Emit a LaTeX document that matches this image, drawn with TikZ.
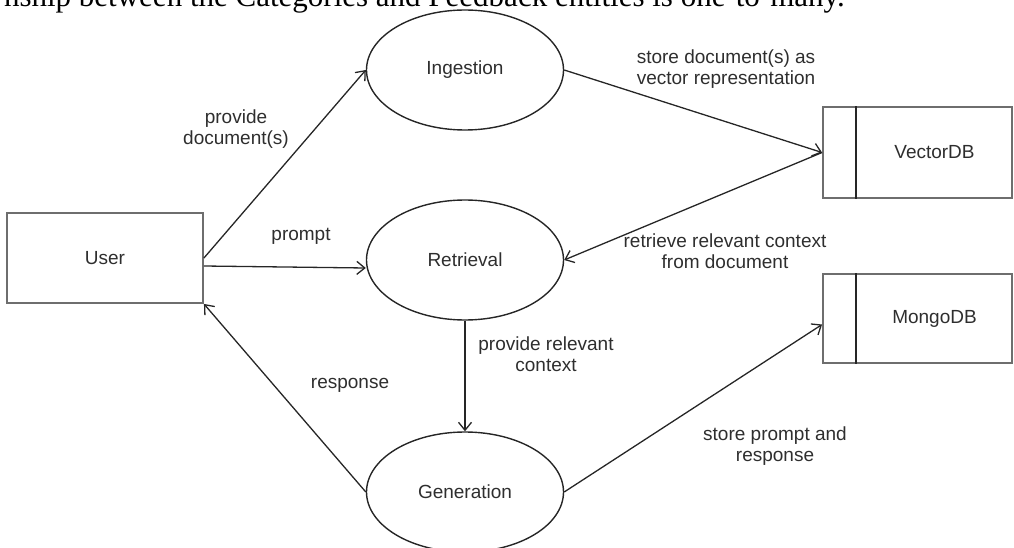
\documentclass[tikz,border=0pt]{standalone}
\usepackage{fontspec}
\setmainfont{Liberation Sans}
\newfontfamily\serifx{Liberation Serif}
\usetikzlibrary{arrows.meta,shapes.geometric}
\definecolor{txtc}{HTML}{2E2E2E}
\definecolor{linec}{HTML}{262626}
\definecolor{boxc}{HTML}{6E6E6E}
\begin{document}
\begin{tikzpicture}[x=1pt,y=-1pt,
  lbl/.style={font=\fontsize{19}{21.5}\selectfont, text=txtc, align=center, inner sep=0pt},
  proc/.style={draw=linec, line width=1.4pt, ellipse, minimum width=197pt, minimum height=120pt, inner sep=0pt, font=\fontsize{19}{21.5}\selectfont, text=txtc},
  ent/.style={draw=boxc, line width=1.9pt, rectangle, inner sep=0pt, font=\fontsize{19}{21.5}\selectfont, text=txtc},
  divider/.style={draw=linec, line width=1.2pt},
  arr/.style={draw=linec, line width=1.3pt, -{Straight Barb[length=8pt,width=13pt]}}
]
\useasboundingbox (0,0) rectangle (1014,548);
\clip (0,0) rectangle (1014,548);

% cropped line of text at the top
\node[anchor=base east, font=\serifx\fontsize{31}{31}\selectfont, text=black, inner sep=0pt] (cap) at (845,7) {nship between the Categories and Feedback entities is one-to-many.};

% nodes
\node[ent, minimum width=196pt, minimum height=90pt] (user) at (105,258) {User};
\node[proc] (ing) at (465,70) {Ingestion};
\node[proc] (ret) at (465,260) {Retrieval};
\node[proc] (gen) at (465,492) {Generation};
\node[ent, minimum width=189pt, minimum height=91pt] (vdb) at (917.5,152.5) {\hspace*{34pt}VectorDB};
\node[ent, minimum width=189pt, minimum height=89pt] (mdb) at (917.5,318.5) {\hspace*{34pt}MongoDB};
\draw[divider] ([xshift=34pt]vdb.north west) -- ([xshift=34pt]vdb.south west);
\draw[divider] ([xshift=34pt]mdb.north west) -- ([xshift=34pt]mdb.south west);

% connectors
\draw[arr] (user.east) -- (ing.west);
\draw[arr] ([yshift=-8pt]user.east) -- ([yshift=-8pt]ret.west);
\draw[arr] (gen.west) -- (user.south east);
\draw[arr] (ret.south) -- (gen.north);
\draw[arr] (ing.east) -- (vdb.west);
\draw[arr] (vdb.west) -- (ret.east);
\draw[arr] (gen.east) -- ([yshift=-6pt]mdb.west);

% labels
\node[lbl] (l1) at (236,129) {provide\\document(s)};
\node[lbl] (l2) at (301,236) {prompt};
\node[lbl] (l3) at (350,385) {response};
\node[lbl] (l4) at (546,354) {provide relevant\\context};
\node[lbl] (l5) at (726,69) {store document(s) as\\vector representation};
\node[lbl] (l6) at (725,251) {retrieve relevant context\\from document};
\node[lbl] (l7) at (775,446) {store prompt and\\response};
\end{tikzpicture}
\end{document}
